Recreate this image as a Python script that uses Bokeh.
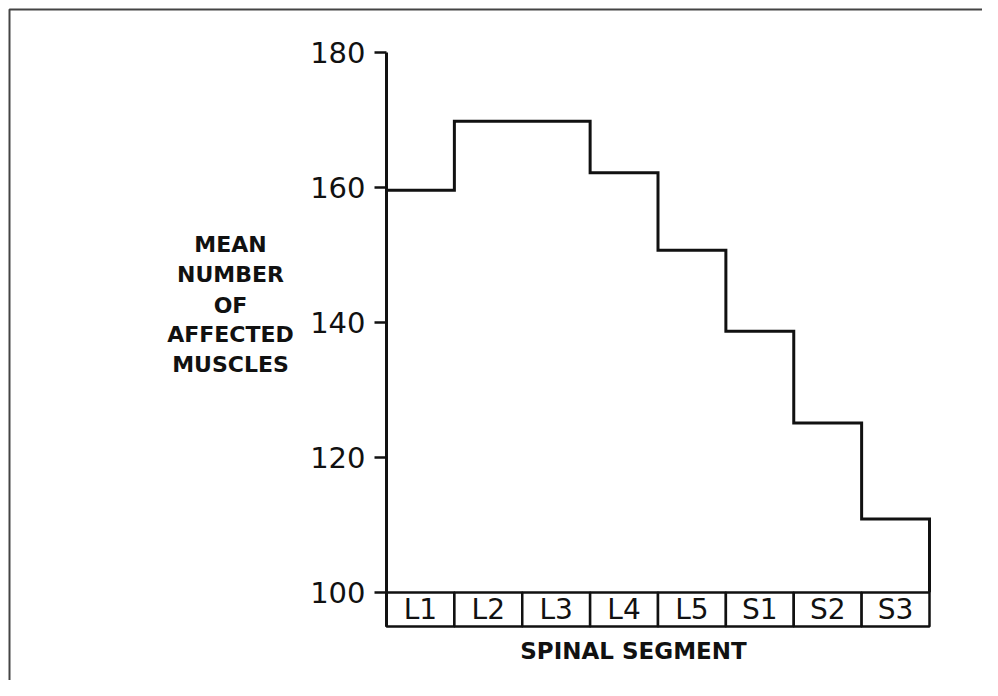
from bokeh.plotting import figure
from bokeh.models import LinearAxis, FixedTicker, Range1d
from bokeh.core.properties import value
from bokeh.embed import file_html
from bokeh.resources import INLINE

# ---- data ----
segments = ["L1", "L2", "L3", "L4", "L5", "S1", "S2", "S3"]
mean_affected = [159.6, 169.8, 169.8, 162.2, 150.7, 138.7, 125.1, 110.9]
y_ticks = [100, 120, 140, 160, 180]
y_label_lines = ["MEAN", "NUMBER", "OF", "AFFECTED", "MUSCLES"]
x_label = "SPINAL SEGMENT"

# ---- geometry (canvas pixels -> data) ----
W, H = 982, 680
PX_X0, PX_PER_SEG = 386.0, 67.875     # x of segment 0, px per segment
PX_Y100, PX_PER_UNIT = 592.0, 6.75    # y of value 100, px per unit

def dx(px):
    return (px - PX_X0) / PX_PER_SEG

def dy(py):
    return 100 + (PX_Y100 - py) / PX_PER_UNIT

x0, x1 = dx(0), dx(W)
y1, y0 = dy(0), dy(H)
box_bottom = dy(626)

FONT = "DejaVu Sans"
INK = "#111111"

p = figure(width=W, height=H, output_backend="svg", toolbar_location=None,
           x_range=Range1d(x0, x1), y_range=Range1d(y0, y1),
           x_axis_location=None, y_axis_location=None, min_border=0)
p.outline_line_color = None
p.xgrid.visible = False
p.ygrid.visible = False
p.background_fill_color = "white"
p.border_fill_color = "white"

# frame border (top + left)
p.line([dx(9), dx(9), x1], [y0, dy(9), dy(9)], line_color="#444444", line_width=2)

# y axis
ax = LinearAxis(ticker=FixedTicker(ticks=y_ticks), fixed_location=0,
                bounds=(box_bottom, 180))
ax.axis_line_width = 3
ax.axis_line_color = INK
ax.major_tick_line_width = 2.5
ax.major_tick_line_color = INK
ax.major_tick_out = 12
ax.major_tick_in = 0
ax.minor_tick_out = 0
ax.minor_tick_in = 0
ax.major_label_standoff = 9
ax.major_label_text_font = FONT
ax.major_label_text_font_size = "29px"
ax.major_label_text_color = INK
p.add_layout(ax, "left")

# step line
n = len(segments)
xs, ys = [], []
for i, v in enumerate(mean_affected):
    xs += [i, i + 1]
    ys += [v, v]
xs.append(n)
ys.append(100)
p.line(xs, ys, line_color=INK, line_width=3, line_join="miter")

# category boxes
p.quad(left=list(range(n)), right=[i + 1 for i in range(n)],
       top=[100] * n, bottom=[box_bottom] * n,
       fill_color="white", line_color=INK, line_width=2.5)
p.text(x=[i + 0.5 for i in range(n)], y=[(100 + box_bottom) / 2] * n, text=segments,
       text_align="center", text_baseline="middle",
       text_font=value(FONT), text_font_size="28px", text_color=INK)

# y label
label_px_y = [244, 274, 305, 334, 364]
p.text(x=[dx(230)] * len(y_label_lines), y=[dy(v) for v in label_px_y],
       text=y_label_lines, text_align="center", text_baseline="middle",
       text_font=value(FONT), text_font_style="bold",
       text_font_size="22px", text_color=INK)

# x label
p.text(x=[dx(633)], y=[dy(650)], text=[x_label], text_align="center",
       text_baseline="middle", text_font=value(FONT), text_font_style="bold",
       text_font_size="23px", text_color=INK)

open("out.html", "w").write(file_html(p, INLINE))
